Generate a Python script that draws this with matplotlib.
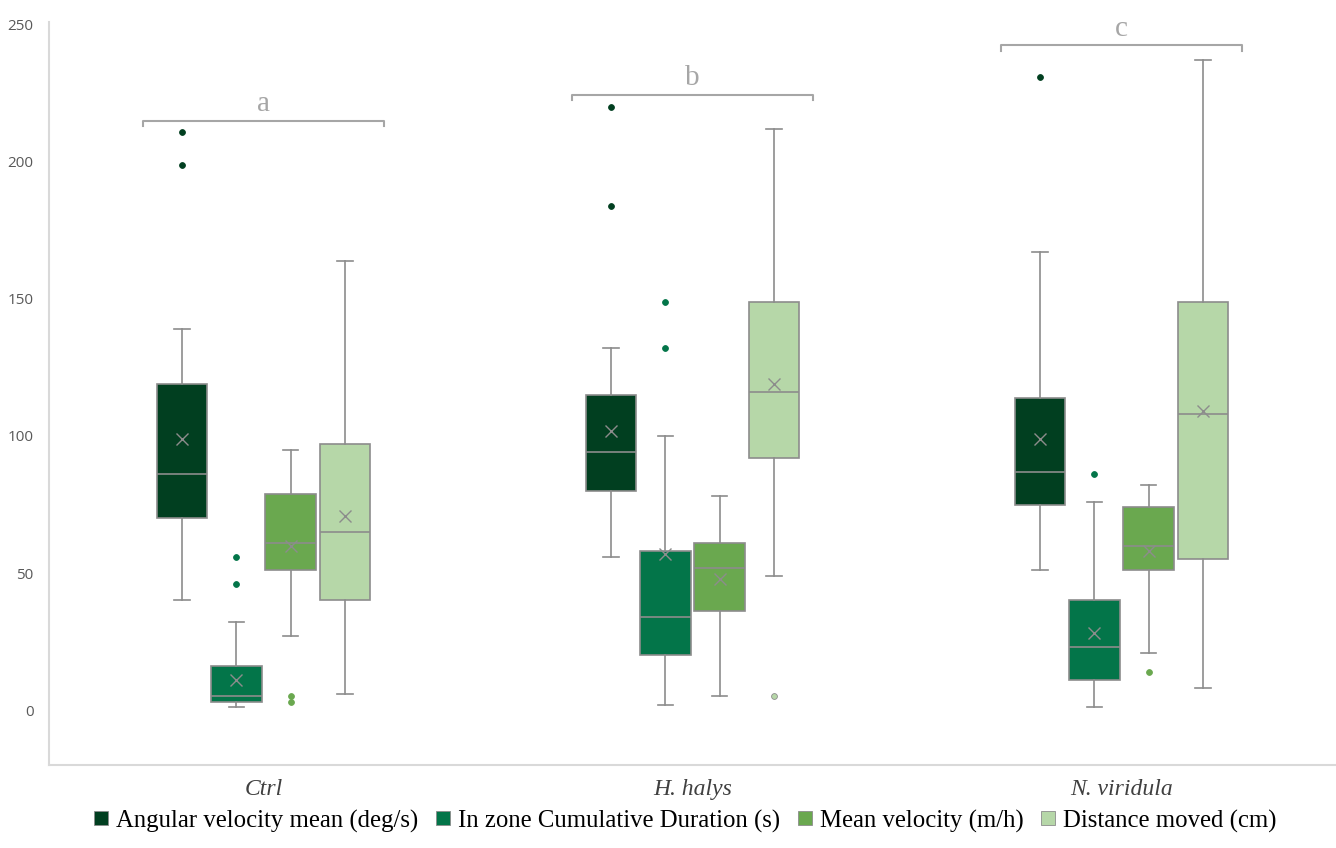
import matplotlib
matplotlib.use("Agg")
import matplotlib.pyplot as plt
from matplotlib.lines import Line2D

# groups and series
groups = ["Ctrl", "H. halys", "N. viridula"]
series = ["Angular velocity mean (deg/s)", "In zone Cumulative Duration (s)",
          "Mean velocity (m/h)", "Distance moved (cm)"]
colors = ["#013f20", "#037549", "#6aa84f", "#b6d7a8"]

# box stats per series, one value per group
angular_low = [40, 56, 51]
angular_q1 = [70, 80, 75]
angular_med = [86, 94, 87]
angular_q3 = [119, 115, 114]
angular_high = [139, 132, 167]
angular_mean = [99, 102, 99]
angular_out = [[211, 199], [220, 184], [231]]

zone_low = [1, 2, 1]
zone_q1 = [3, 20, 11]
zone_med = [5, 34, 23]
zone_q3 = [16, 58, 40]
zone_high = [32, 100, 76]
zone_mean = [11, 57, 28]
zone_out = [[56, 46], [149, 132], [86]]

vel_low = [27, 5, 21]
vel_q1 = [51, 36, 51]
vel_med = [61, 52, 60]
vel_q3 = [79, 61, 74]
vel_high = [95, 78, 82]
vel_mean = [60, 48, 58]
vel_out = [[5, 3], [], [14]]

dist_low = [6, 49, 8]
dist_q1 = [40, 92, 55]
dist_med = [65, 116, 108]
dist_q3 = [97, 149, 149]
dist_high = [164, 212, 237]
dist_mean = [71, 119, 109]
dist_out = [[], [5], []]

# significance letters
letters = ["a", "b", "c"]
letter_y = [215, 224.5, 242.5]

all_stats = [
    (angular_low, angular_q1, angular_med, angular_q3, angular_high, angular_mean, angular_out),
    (zone_low, zone_q1, zone_med, zone_q3, zone_high, zone_mean, zone_out),
    (vel_low, vel_q1, vel_med, vel_q3, vel_high, vel_mean, vel_out),
    (dist_low, dist_q1, dist_med, dist_q3, dist_high, dist_mean, dist_out),
]

fig = plt.figure(figsize=(13.36, 8.48), dpi=100)
ax = fig.add_axes([49 / 1336, 83 / 848, 1 - 49 / 1336, 743 / 848])

gray = "#8c8c8c"
offsets = [-0.19, -0.063, 0.063, 0.19]
width = 0.118

for s, (lo, q1, med, q3, hi, mean, out) in enumerate(all_stats):
    stats = []
    for g in range(len(groups)):
        stats.append({"whislo": lo[g], "q1": q1[g], "med": med[g], "q3": q3[g],
                      "whishi": hi[g], "mean": mean[g], "fliers": out[g]})
    pos = [g + offsets[s] for g in range(len(groups))]
    ax.bxp(stats, positions=pos, widths=width, patch_artist=True, showmeans=True,
           boxprops=dict(facecolor=colors[s], edgecolor=gray, linewidth=1.2),
           medianprops=dict(color=gray, linewidth=1.2),
           whiskerprops=dict(color=gray, linewidth=1.2),
           capprops=dict(color=gray, linewidth=1.2),
           capwidths=width * 0.3,
           meanprops=dict(marker="x", markeredgecolor=gray, markersize=8, markeredgewidth=1),
           flierprops=dict(marker="o", markerfacecolor=colors[s], markeredgecolor=colors[s] if s < 3 else gray,
                           markersize=4.2, markeredgewidth=0.6))

# brackets with letters
for g in range(len(groups)):
    x0, x1 = g - 0.28, g + 0.28
    y = letter_y[g]
    ax.plot([x0, x0, x1, x1], [y - 2, y, y, y - 2], color="#a6a6a6", linewidth=1.5, clip_on=False)
    ax.text(g, y + 1.2, letters[g], ha="center", va="bottom", fontsize=21,
            color="#a6a6a6", family="Liberation Serif", clip_on=False)

ax.set_xlim(-0.5, 2.5)
ax.set_ylim(-20, 251)
ax.set_yticks([0, 50, 100, 150, 200, 250])
ax.set_xticks(range(len(groups)))
ax.set_xticklabels(groups, fontsize=17, style="italic", family="Liberation Serif", color="#404040")
ax.tick_params(axis="y", length=0, labelsize=11, labelcolor="#595959", pad=11)
ax.tick_params(axis="x", length=0, pad=10)
for lab in ax.get_yticklabels():
    lab.set_family("Open Sans")

for side in ["top", "right"]:
    ax.spines[side].set_visible(False)
ax.spines["left"].set_color("#d9d9d9")
ax.spines["bottom"].set_color("#d9d9d9")
ax.spines["left"].set_linewidth(1.5)
ax.spines["bottom"].set_linewidth(1.5)

handles = [Line2D([], [], marker="s", linestyle="none", markersize=10,
                  markerfacecolor=c, markeredgecolor=gray, markeredgewidth=0.6) for c in colors]
fig.legend(handles, series, loc="lower center", bbox_to_anchor=(0.511, -0.008), ncol=4,
           frameon=False, handletextpad=0.1, columnspacing=0.5, handlelength=1.0,
           prop={"family": "Liberation Serif", "size": 17.8})

fig.savefig("out.png", dpi=100)
